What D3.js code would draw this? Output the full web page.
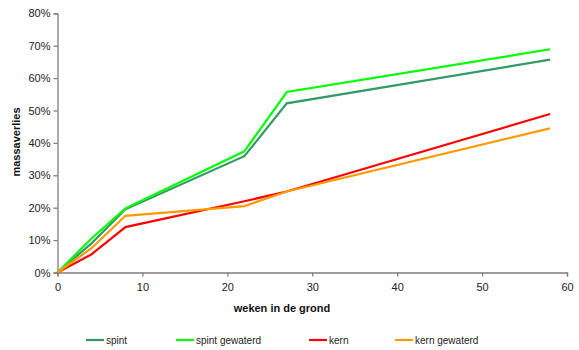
<!DOCTYPE html>
<html><head><meta charset="utf-8">
<script src="https://cdn.jsdelivr.net/npm/d3@7"></script>
<style>body{margin:0;background:#fff}svg{display:block}text{font-family:"Liberation Sans",Arial,sans-serif}</style>
</head><body>
<svg id="c" width="579" height="350"></svg>
<script>
const weeks = [0, 4, 8, 22, 27, 58];
const spint = [0, 9.0, 19.5, 35.9, 52.2, 65.7];
const spintGewaterd = [0, 10.5, 19.8, 37.4, 55.7, 68.9];
const kern = [0, 5.6, 14.0, 22.0, 25.0, 48.9];
const kernGewaterd = [0, 7.5, 17.5, 20.5, 25.0, 44.5];
const seriesNames = ["spint", "spint gewaterd", "kern", "kern gewaterd"];
const seriesColors = ["#339966", "#00ff00", "#ff0000", "#ff9900"];
const xTicks = [0, 10, 20, 30, 40, 50, 60];
const yTicks = [0, 10, 20, 30, 40, 50, 60, 70, 80];

const series = [spint, spintGewaterd, kern, kernGewaterd];
const svg = d3.select("#c");
const x = d3.scaleLinear().domain([0, 60]).range([57.5, 567]);
const y = d3.scaleLinear().domain([0, 80]).range([272.5, 13.3]);

const xAxis = svg.append("g").attr("transform", "translate(0,272.5)")
  .call(d3.axisBottom(x).tickValues(xTicks).tickSizeOuter(0).tickSize(4).tickPadding(7));
const yAxis = svg.append("g").attr("transform", "translate(57.5,0)")
  .call(d3.axisLeft(y).tickValues(yTicks).tickSizeOuter(0).tickSize(4).tickPadding(3).tickFormat(d => d + "%"));
[xAxis, yAxis].forEach(a => {
  a.selectAll("path,line").attr("stroke", "#7f7f7f").attr("stroke-width", 1.3);
  a.selectAll("text").attr("font-size", 11).attr("fill", "#222");
});

const line = d3.line().x((d, i) => x(weeks[i])).y(d => y(d));
series.forEach((s, k) => {
  svg.append("path").datum(s).attr("d", line).attr("fill", "none")
    .attr("stroke", seriesColors[k]).attr("stroke-width", 2.2).attr("stroke-linejoin", "miter");
});

svg.append("text").attr("x", 282).attr("y", 312).attr("text-anchor", "middle")
  .attr("font-size", 11).attr("font-weight", "bold").attr("fill", "#111").text("weken in de grond");
svg.append("text").attr("transform", "translate(20,142) rotate(-90)").attr("text-anchor", "middle")
  .attr("font-size", 11).attr("font-weight", "bold").attr("fill", "#111").text("massaverlies");

const legX = [86, 176, 309, 395];
seriesNames.forEach((n, k) => {
  const g = svg.append("g").attr("transform", `translate(${legX[k]},340)`);
  g.append("line").attr("x1", 0).attr("x2", 18).attr("y1", 0).attr("y2", 0)
    .attr("stroke", seriesColors[k]).attr("stroke-width", 2.2);
  g.append("text").attr("x", 20).attr("y", 4).attr("font-size", 10).attr("fill", "#222").text(n);
});
</script>
</body></html>
